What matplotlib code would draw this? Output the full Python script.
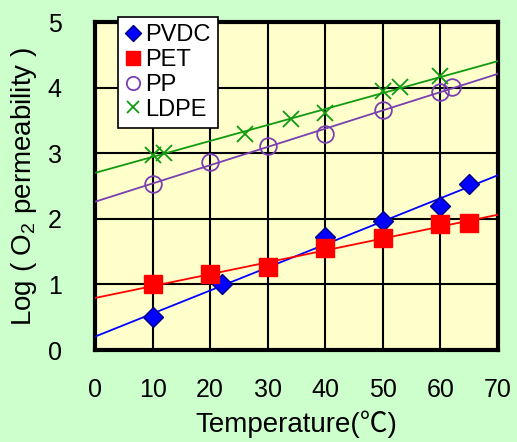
import numpy as np
import matplotlib
matplotlib.use("Agg")
import matplotlib.pyplot as plt

plt.rcParams['font.family'] = ['Liberation Sans', 'Noto Sans CJK JP', 'DejaVu Sans']
plt.rcParams['mathtext.fontset'] = 'custom'
plt.rcParams['mathtext.rm'] = 'Liberation Sans'

pvdc_t = [10, 22, 40, 50, 60, 65]
pvdc_v = [0.50, 1.00, 1.72, 1.96, 2.20, 2.53]

pet_t = [10, 20, 30, 40, 50, 60, 65]
pet_v = [1.00, 1.16, 1.26, 1.55, 1.71, 1.92, 1.94]

pp_t = [10, 20, 30, 40, 50, 60, 62]
pp_v = [2.53, 2.86, 3.11, 3.29, 3.66, 3.94, 4.01]

ldpe_t = [10, 12, 26, 34, 40, 50, 53, 60]
ldpe_v = [2.97, 3.01, 3.30, 3.52, 3.61, 3.95, 4.01, 4.17]

SERIES = [
    ("PVDC", pvdc_t, pvdc_v, "#0000FF"),
    ("PET", pet_t, pet_v, "#FF0000"),
    ("PP", pp_t, pp_v, "#7A3FB0"),
    ("LDPE", ldpe_t, ldpe_v, "#109A10"),
]

MARKERS = {
    "PVDC": dict(marker="D", ms=10, mfc="#0000FF", mec="#000080", mew=1),
    "PET": dict(marker="s", ms=13, mfc="#FF0000", mec="#FF0000", mew=1),
    "PP": dict(marker="o", ms=12, mfc="none", mec="#7A3FB0", mew=1.3),
    "LDPE": dict(marker="x", ms=11, mfc="none", mec="#109A10", mew=1.3),
}

fig = plt.figure(figsize=(5.17, 4.42), dpi=100, facecolor="#CCFFCC")
ax = fig.add_axes([0.1838, 0.2081, 0.7795, 0.7421], facecolor="#FFFFCC")

xfit = np.array([0, 70])
handles = []
for name, t, v, col in SERIES:
    a, b = np.polyfit(t, v, 1)
    ax.plot(xfit, a * xfit + b, color=col, lw=1.3, zorder=3)
    h, = ax.plot(t, v, ls="none", zorder=4, label=name, **MARKERS[name])
    handles.append(h)

ax.set_xlim(0, 70)
ax.set_ylim(0, 5)
ax.set_xticks(range(0, 71, 10))
ax.set_yticks(range(0, 6))
ax.grid(True, color="black", lw=1.5, zorder=1)
ax.set_axisbelow(True)
ax.tick_params(length=0, labelsize=18, pad=20)
ax.tick_params(axis="y", pad=24)
for s in ax.spines.values():
    s.set_linewidth(3)

ax.set_xlabel("Temperature(℃)", fontsize=20, labelpad=6)
ax.set_ylabel("Log ( O$_2$ permeability )", fontsize=20, labelpad=6)

leg = ax.legend(handles=handles, loc="upper left", bbox_to_anchor=(0.057, 1.015),
                fontsize=17, frameon=True, fancybox=False, framealpha=1,
                edgecolor="black", handlelength=0.7, handletextpad=0.15,
                borderpad=0.3, labelspacing=0.12, borderaxespad=0,
                markerscale=0.8)
leg.get_frame().set_linewidth(1.2)
leg.set_zorder(10)

fig.savefig("out.png", dpi=100, facecolor=fig.get_facecolor())
